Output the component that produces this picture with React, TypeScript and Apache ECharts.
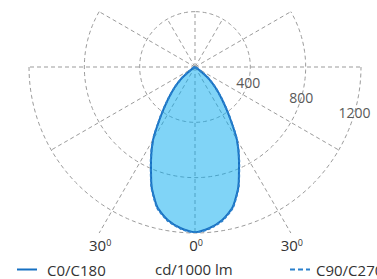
import React, { useEffect, useRef } from "react";
import * as echarts from "echarts";

// Angles from nadir (degrees) at which intensities were read
const gammaAngles = [0, 5, 10, 15, 20, 25, 30, 35, 40, 45, 50, 55, 60, 65, 70, 75, 80, 85, 90];
// Luminous intensity, cd/1000 lm
const intensityC0C180 = [1195, 1170, 1125, 1050, 918, 753, 605, 430, 302, 207, 125, 40, 12, 2, 0, 0, 0, 0, 0];
const intensityC90C270 = [1198, 1174, 1130, 1055, 922, 757, 608, 432, 303, 207, 124, 40, 12, 2, 0, 0, 0, 0, 0];

// Grid / tick labels
const ringValues = [400, 800, 1200];
const ringLabels = ["400", "800", "1200"];
const ringArcExtent = [180, 120, 90]; // how far from nadir each ring is drawn
const spokeAngles = [0, 30, 60, 90, 120, 150, 180];
const spokeReach = [1200, 1386, 1200, 1200, 800, 400, 400];
const angleLabelValues = [-30, 0, 30];

const seriesNames = ["C0/C180", "C90/C270"];
const unitLabel = "cd/1000 lm";

const FONT = '"Open Sans", "Noto Sans", sans-serif';

function toPolar(values: number[]) {
  const left = gammaAngles.map((g, i) => [values[i], g === 0 ? 0 : 360 - g]).reverse();
  const right = gammaAngles.slice(1).map((g, i) => [values[i + 1], g]);
  return [...left, ...right];
}

export default function App() {
  const ref = useRef<HTMLDivElement>(null);
  useEffect(() => {
    const chart = echarts.init(ref.current!, undefined, { renderer: "svg" });
    const dash = { stroke: "#9b9b9b", lineWidth: 1, lineDash: [4, 3], fill: null };

    const renderGrid = (_params: any, api: any) => {
      const children: any[] = [];
      ringValues.forEach((v, i) => {
        const ext = ringArcExtent[i];
        const pts: number[][] = [];
        for (let a = -ext; a <= ext; a += 2) pts.push(api.coord([v, (a + 360) % 360]));
        children.push({ type: "polyline", shape: { points: pts }, style: dash });
      });
      spokeAngles.forEach((g, i) => {
        const sides = g === 0 || g === 180 ? [g] : [g, 360 - g];
        sides.forEach((a) => {
          const p0 = api.coord([0, a]);
          const p1 = api.coord([spokeReach[i], a]);
          children.push({
            type: "line",
            shape: { x1: p0[0], y1: p0[1], x2: p1[0], y2: p1[1] },
            style: dash,
          });
        });
      });
      ringValues.forEach((v, i) => {
        const p = api.coord([v, 74]);
        children.push({
          type: "text",
          style: {
            text: ringLabels[i],
            x: p[0],
            y: p[1],
            align: "center",
            verticalAlign: "middle",
            fill: "#595959",
            fontSize: 14,
            fontFamily: FONT,
          },
        });
      });
      angleLabelValues.forEach((g) => {
        const idx = spokeAngles.indexOf(Math.abs(g));
        const p = api.coord([spokeReach[idx], (g + 360) % 360]);
        children.push({
          type: "text",
          style: {
            text: `{v|${Math.abs(g)}}{d|0}`,
            x: p[0] + 1,
            y: p[1] + 12,
            align: "center",
            verticalAlign: "middle",
            fill: "#333",
            fontFamily: FONT,
            rich: {
              v: { fontSize: 15, fontFamily: FONT, fill: "#333" },
              d: { fontSize: 9, fontFamily: FONT, fill: "#333", verticalAlign: "top" },
            },
          },
        });
      });
      return { type: "group", children };
    };

    const legendBase = {
      top: 262,
      padding: 0,
      itemWidth: 20,
      itemHeight: 2,
      selectedMode: false,
    };

    chart.setOption({
      animation: false,
      polar: { center: [195, 67], radius: 166 },
      angleAxis: {
        type: "value",
        min: 0,
        max: 360,
        startAngle: 270,
        clockwise: false,
        show: false,
      },
      radiusAxis: { type: "value", min: 0, max: 1200, show: false },
      title: {
        text: unitLabel,
        left: 155,
        top: 261,
        padding: 0,
        textStyle: { fontSize: 15, fontWeight: "normal", color: "#333", fontFamily: FONT },
      },
      legend: [
        {
          ...legendBase,
          data: [{ name: seriesNames[0], icon: "path://M0,0h20v2h-20z" }],
          left: 17,
          textStyle: { fontSize: 15, color: "#333", fontFamily: FONT, padding: [0, 0, 0, 5] },
        },
        {
          ...legendBase,
          data: [
            {
              name: seriesNames[1],
              icon: "path://M0,0h5v2h-5zM8,0h5v2h-5zM16,0h4v2h-4z",
            },
          ],
          left: 290,
          textStyle: { fontSize: 15, color: "#333", fontFamily: FONT, padding: [0, 0, 0, 1] },
        },
      ],
      series: [
        {
          type: "custom",
          coordinateSystem: "polar",
          silent: true,
          z: 1,
          data: [[0, 0]],
          renderItem: renderGrid,
        },
        {
          name: seriesNames[0],
          type: "line",
          coordinateSystem: "polar",
          data: toPolar(intensityC0C180),
          symbol: "none",
          smooth: 0.2,
          z: 3,
          lineStyle: { color: "#1670c2", width: 2 },
          itemStyle: { color: "#1670c2" },
          areaStyle: { color: "rgba(1,169,239,0.5)", opacity: 1 },
        },
        {
          name: seriesNames[1],
          type: "line",
          coordinateSystem: "polar",
          data: toPolar(intensityC90C270),
          symbol: "none",
          smooth: 0.2,
          z: 4,
          lineStyle: { color: "#2a80cc", width: 2, type: [3, 2] },
          itemStyle: { color: "#2a80cc" },
        },
      ],
    });
    return () => chart.dispose();
  }, []);
  return (
    <div
      ref={ref}
      style={{ position: "absolute", left: 0, top: 0, width: 377, height: 279 }}
    />
  );
}
